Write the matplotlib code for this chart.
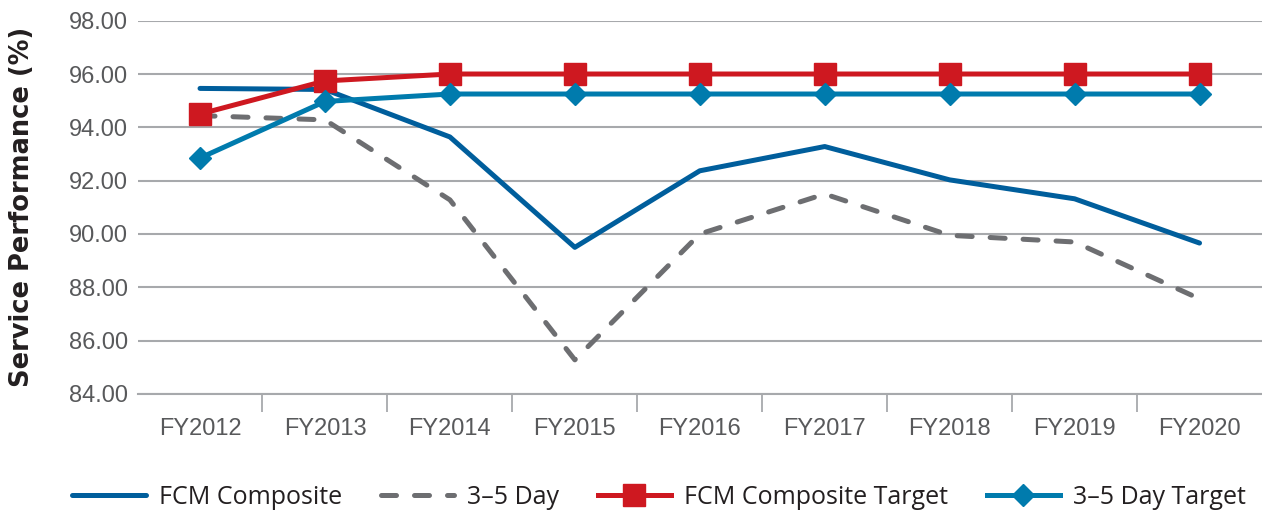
import matplotlib
matplotlib.use("Agg")
import matplotlib.pyplot as plt
import numpy as np

# data
years = ["FY2012", "FY2013", "FY2014", "FY2015", "FY2016",
         "FY2017", "FY2018", "FY2019", "FY2020"]
fcm_composite = [95.46, 95.42, 93.64, 89.50, 92.37, 93.28, 92.03, 91.32, 89.66]
day_3_5 = [94.44, 94.28, 91.28, 85.28, 90.00, 91.50, 89.95, 89.70, 87.57]
fcm_target = [94.50, 95.74, 96.00, 96.00, 96.00, 96.00, 96.00, 96.00, 96.00]
day_3_5_target = [92.85, 94.97, 95.25, 95.25, 95.25, 95.25, 95.25, 95.25, 95.25]

y_ticks = [84, 86, 88, 90, 92, 94, 96, 98]

# colours
c_fcm = "#005E9C"
c_day = "#6D6E71"
c_fcm_t = "#CE1820"
c_day_t = "#007BAD"
c_grid = "#A7A9AC"
c_tick = "#58595B"

legend_font = "Open Sans"
tick_font = "Liberation Sans"

fig = plt.figure(figsize=(12.62, 5.12), dpi=100)
ax = fig.add_axes([0.109, 0.2305, 0.891, 0.7291])

x = np.arange(len(years))

ax.plot(x, fcm_composite, color=c_fcm, lw=3.6, solid_capstyle="round",
        label="FCM Composite", zorder=3)
ax.plot(x, day_3_5, color=c_day, lw=3.6, dashes=(3, 3.6), dash_capstyle="round",
        label="3\u20135 Day", zorder=3)
ax.plot(x, fcm_target, color=c_fcm_t, lw=3.6, marker="s", markersize=15.5,
        label="FCM Composite Target", zorder=4)
ax.plot(x, day_3_5_target, color=c_day_t, lw=3.6, marker="D", markersize=11.5,
        label="3\u20135 Day Target", zorder=4)

ax.set_xlim(-0.5, len(years) - 0.5)
ax.set_ylim(84, 98)
ax.set_yticks(y_ticks)
ax.set_yticklabels([f"{v:.2f}" for v in y_ticks], fontname=tick_font,
                   fontsize=17, color=c_tick)
ax.set_xticks(x)
ax.set_xticklabels(years, fontname=tick_font, fontsize=17, color=c_tick)
ax.set_xticks(np.arange(0.5, len(years) - 0.5, 1), minor=True)

ax.tick_params(axis="y", length=0, pad=7)
ax.tick_params(axis="x", which="major", length=0, pad=17)
ax.tick_params(axis="x", which="minor", length=13, width=1.3, color=c_grid,
               direction="out")

ax.yaxis.grid(True, color=c_grid, lw=1.5)
ax.set_axisbelow(True)
for side in ["left", "right", "top"]:
    ax.spines[side].set_visible(False)
ax.spines["bottom"].set_color(c_grid)
ax.spines["bottom"].set_linewidth(1.5)

ax.set_ylabel("Service Performance (%)", fontname="DejaVu Sans", fontsize=18.5,
              fontweight="bold", color="#231F20")
ax.yaxis.set_label_coords(-0.091, 0.5)

fig.legend(loc="center", bbox_to_anchor=(659 / 1262, 1 - 497 / 512), ncol=4,
           frameon=False, handlelength=2.95, handletextpad=0.5,
           columnspacing=1.55, prop={"family": legend_font, "size": 18},
           labelcolor="#231F20")

fig.savefig("out.png", dpi=100)
